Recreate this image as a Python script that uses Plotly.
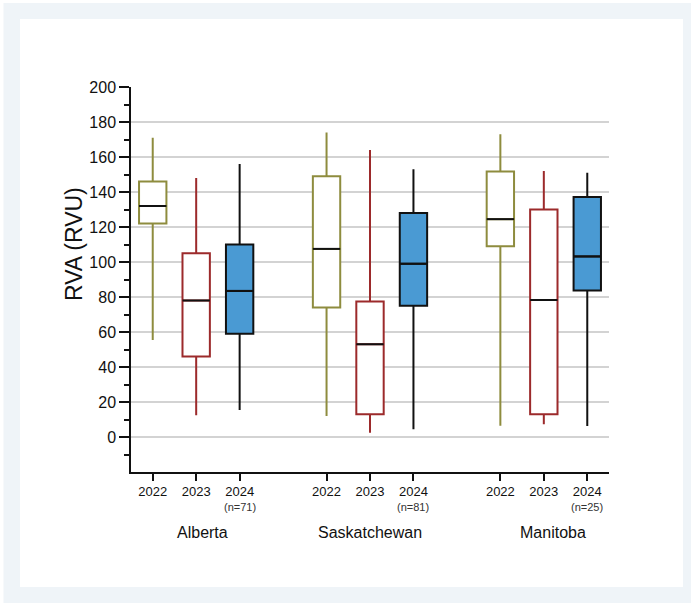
import plotly.graph_objects as go

# Summary statistics of RVA (RVU) by province and year
provinces = ["Alberta", "Saskatchewan", "Manitoba"]
years = ["2022", "2023", "2024"]
n_2024 = [71, 81, 25]

lower = {
    "2022": [55.5, 12, 6.5],
    "2023": [12.5, 2.5, 7.3],
    "2024": [15.5, 4.5, 6.3],
}
q1 = {
    "2022": [122, 74, 109],
    "2023": [46, 13, 13],
    "2024": [59, 75, 83.7],
}
median = {
    "2022": [132, 107.5, 124.5],
    "2023": [78, 53, 78.3],
    "2024": [83.5, 99, 103.2],
}
q3 = {
    "2022": [146, 149, 151.7],
    "2023": [105, 77.5, 130],
    "2024": [110, 128, 137.2],
}
upper = {
    "2022": [171, 174, 173],
    "2023": [148, 164, 152],
    "2024": [156, 153, 151],
}

# Styling per year
line_color = {"2022": "#8e8c3e", "2023": "#9c2a2b", "2024": "#111111"}
fill_color = {"2022": "white", "2023": "white", "2024": "#4a9ad3"}

# Slot layout: three years per province, one empty slot between provinces
GROUP_STEP = 4
BOX_W = 0.63


def slot(p_idx, y_idx):
    return p_idx * GROUP_STEP + y_idx


# Figure geometry (pixels)
W, H = 691, 603
L, R, T, B = 131, 82, 87, 131
PW, PH = W - L - R, H - T - B


def px_x(px):
    return (px - L) / PW


def px_y(py):
    return (H - B - py) / PH


FONT = "Arial, Liberation Sans, sans-serif"

fig = go.Figure()

for yi, yr in enumerate(years):
    xs = [slot(pi, yi) for pi in range(len(provinces))]
    fig.add_trace(go.Box(
        x=xs,
        q1=q1[yr], median=median[yr], q3=q3[yr],
        lowerfence=lower[yr], upperfence=upper[yr],
        width=BOX_W, whiskerwidth=0,
        line=dict(color=line_color[yr], width=2),
        fillcolor=fill_color[yr],
        boxpoints=False,
        showlegend=False, name=yr,
    ))

# Black median bars
mx, my = [], []
for yi, yr in enumerate(years):
    for pi in range(len(provinces)):
        c = slot(pi, yi)
        mx += [c - BOX_W / 2, c + BOX_W / 2, None]
        my += [median[yr][pi], median[yr][pi], None]
fig.add_trace(go.Scatter(x=mx, y=my, mode="lines",
                         line=dict(color="#111111", width=2),
                         showlegend=False, hoverinfo="skip"))

tickvals = [slot(pi, yi) for pi in range(len(provinces)) for yi in range(len(years))]
ticktext = [yr for _ in provinces for yr in years]

annotations = []
for pi, prov in enumerate(provinces):
    annotations.append(dict(
        x=slot(pi, 2), xref="x", y=px_y(507), yref="paper",
        text=f"(n={n_2024[pi]})", showarrow=False,
        font=dict(family=FONT, size=11, color="#333333"),
        xanchor="center", yanchor="middle",
    ))
group_offsets = [1.15, 1.0, 1.2]
for pi, prov in enumerate(provinces):
    annotations.append(dict(
        x=pi * GROUP_STEP + group_offsets[pi], xref="x", y=px_y(532), yref="paper",
        text=prov, showarrow=False,
        font=dict(family=FONT, size=16, color="#111111"),
        xanchor="center", yanchor="middle",
    ))
annotations.append(dict(
    x=px_x(74), xref="paper", y=px_y(244), yref="paper",
    text="RVA (RVU)", textangle=-90, showarrow=False,
    font=dict(family=FONT, size=23, color="#111111"),
    xanchor="center", yanchor="middle",
))

shapes = [
    # light frame
    dict(type="rect", xref="paper", yref="paper", layer="below",
         x0=px_x(3.5), x1=px_x(W), y0=px_y(H), y1=px_y(3),
         line=dict(width=0), fillcolor="#eff4f8"),
    # white card
    dict(type="rect", xref="paper", yref="paper", layer="below",
         x0=px_x(20), x1=px_x(683), y0=px_y(587), y1=px_y(19),
         line=dict(width=0), fillcolor="white"),
]

fig.update_layout(
    width=W, height=H,
    margin=dict(l=L, r=R, t=T, b=B, pad=0),
    paper_bgcolor="white", plot_bgcolor="white",
    boxmode="overlay",
    font=dict(family=FONT, color="#111111"),
    annotations=annotations, shapes=shapes,
    xaxis=dict(
        range=[-0.5, 10.5], tickmode="array", tickvals=tickvals, ticktext=ticktext,
        showgrid=False, zeroline=False,
        showline=True, linecolor="#111111", linewidth=1.5,
        ticks="outside", ticklen=7, tickwidth=1.5, tickcolor="#111111",
        tickfont=dict(family=FONT, size=13, color="#111111"),
    ),
    yaxis=dict(
        range=[-20, 200], tickmode="array", tickvals=list(range(0, 201, 20)),
        showgrid=True, gridcolor="#d3d3d3", gridwidth=1.5, zeroline=False,
        showline=True, linecolor="#111111", linewidth=1.5,
        ticks="outside", ticklen=10, tickwidth=1.5, tickcolor="#111111",
        tickfont=dict(family=FONT, size=16, color="#111111"),
        minor=dict(tickmode="array", tickvals=list(range(-10, 200, 20)),
                   ticks="outside", ticklen=5, tickwidth=1.5,
                   tickcolor="#111111", showgrid=False),
    ),
)

fig.write_html("out.html")
